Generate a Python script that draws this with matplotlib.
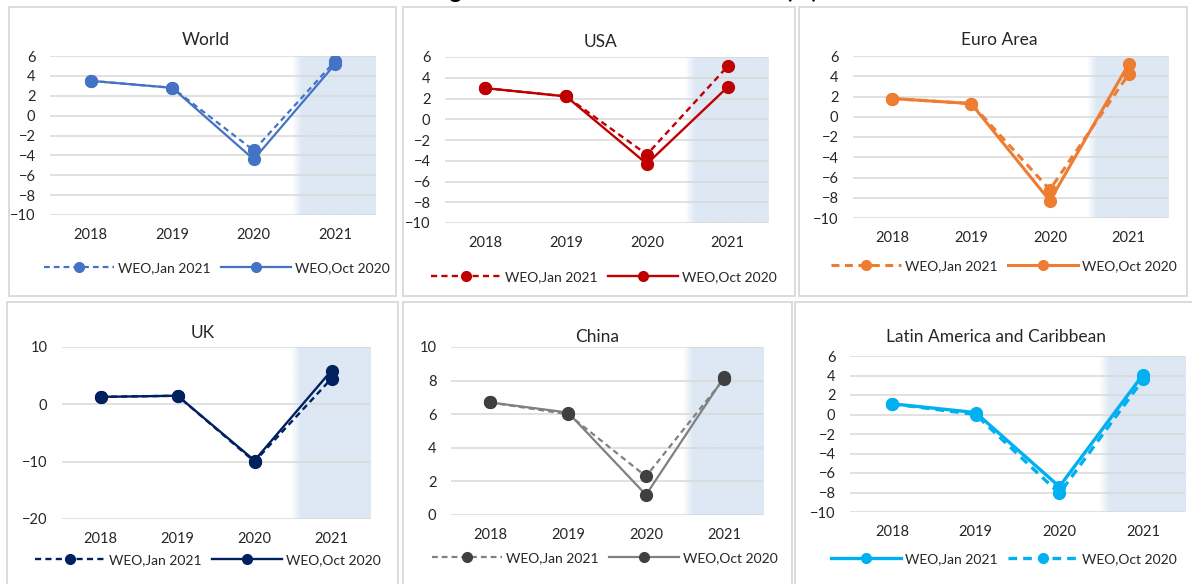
import numpy as np
import matplotlib
matplotlib.use("Agg")
import matplotlib.pyplot as plt
from matplotlib.lines import Line2D
from matplotlib.patches import Rectangle

plt.rcParams["font.family"] = ["Lato", "DejaVu Sans"]

W_PX, H_PX = 1192, 584

years = ["2018", "2019", "2020", "2021"]

# real GDP growth (%), WEO Jan 2021 update vs WEO Oct 2020
world_jan = [3.5, 2.8, -3.5, 5.5]
world_oct = [3.5, 2.8, -4.4, 5.2]
usa_jan = [3.0, 2.2, -3.4, 5.1]
usa_oct = [3.0, 2.2, -4.3, 3.1]
euro_jan = [1.8, 1.3, -7.2, 4.2]
euro_oct = [1.8, 1.3, -8.3, 5.2]
uk_jan = [1.3, 1.5, -10.0, 4.5]
uk_oct = [1.3, 1.5, -9.8, 5.9]
china_jan = [6.7, 6.0, 2.3, 8.1]
china_oct = [6.7, 6.1, 1.2, 8.2]
lac_jan = [1.1, 0.2, -7.4, 4.1]
lac_oct = [1.1, 0.0, -8.1, 3.6]

GRID = "#d9d9d9"
BAND = "#dde8f4"
TXT = "#262626"


def fig_box(x0, y0, x1, y1):
    # pixel box (top-left origin) -> figure fraction [left, bottom, width, height]
    return [x0 / W_PX, 1 - y1 / H_PX, (x1 - x0) / W_PX, (y1 - y0) / H_PX]


def fx(x):
    return x / W_PX


def fy(y):
    return 1 - y / H_PX


def add_band(ax, ylo, yhi):
    # shaded forecast year, fading in on its left edge
    rgb = matplotlib.colors.to_rgb(BAND)
    n = 200
    img = np.zeros((1, n, 4))
    img[..., :3] = rgb
    img[0, :, 3] = np.clip(np.linspace(0, 1, n) / 0.12, 0, 1)
    ax.imshow(img, extent=(2.47, 3.5, ylo, yhi), aspect="auto", zorder=0,
              interpolation="bilinear")


fig = plt.figure(figsize=(W_PX / 100, H_PX / 100), dpi=100)

# panel frames
frames = [
    (9, 7, 396, 296), (403, 7, 795, 296), (799, 7, 1187, 296),
    (7, 302, 398, 640), (403, 302, 792, 640), (795, 302, 1240, 640),
]
for x0, y0, x1, y1 in frames:
    fig.patches.append(Rectangle((fx(x0), fy(y1)), fx(x1 - x0), (y1 - y0) / H_PX,
                                 transform=fig.transFigure, fill=False,
                                 edgecolor=GRID, lw=1.3))

fig.text(fx(818), fy(-1.5), "Figure 2: Real GDP Growth Rates (%)", ha="right",
         va="baseline", fontsize=17, fontweight="bold")

panels = [
    dict(name="World", jan=world_jan, oct=world_oct, color="#4472c4", mk="#4472c4",
         box=(50, 56, 376, 215), ylim=(-10, 6), step=2, title=(206, 40),
         leg=(217, 268), lw=1.6, jan_dash=True),
    dict(name="USA", jan=usa_jan, oct=usa_oct, color="#c00000", mk="#c00000",
         box=(445, 57, 768, 223), ylim=(-10, 6), step=2, title=(600, 42),
         leg=(604, 277), lw=1.7, jan_dash=True),
    dict(name="Euro Area", jan=euro_jan, oct=euro_oct, color="#ed7d31", mk="#ed7d31",
         box=(853, 56, 1168, 218), ylim=(-10, 6), step=2, title=(999, 40),
         leg=(1004, 266), lw=2.2, jan_dash=True),
    dict(name="UK", jan=uk_jan, oct=uk_oct, color="#002060", mk="#002060",
         box=(62, 347, 370, 519), ylim=(-20, 10), step=10, title=(203, 333),
         leg=(208, 560), lw=1.7, jan_dash=True),
    dict(name="China", jan=china_jan, oct=china_oct, color="#808080", mk="#404040",
         box=(451, 347, 763, 515), ylim=(0, 10), step=2, title=(597, 337),
         leg=(605, 558), lw=1.6, jan_dash=True),
    dict(name="Latin America and Caribbean", jan=lac_jan, oct=lac_oct, color="#00b0f0",
         mk="#00b0f0", box=(850, 356, 1185, 512), ylim=(-10, 6), step=2,
         title=(996, 337), leg=(1004, 559), lw=2.4, jan_dash=False),
]

DASH = (0, (2.6, 1.8))

for p in panels:
    ax = fig.add_axes(fig_box(*p["box"]))
    x = np.arange(len(years))
    ylo, yhi = p["ylim"]

    add_band(ax, ylo, yhi)

    jan_ls = DASH if p["jan_dash"] else "-"
    oct_ls = "-" if p["jan_dash"] else DASH
    kw = dict(color=p["color"], lw=p["lw"], marker="o", markersize=8.5,
              markerfacecolor=p["mk"], markeredgecolor=p["mk"], zorder=3)
    ax.plot(x, p["oct"], linestyle=oct_ls, **kw)
    ax.plot(x, p["jan"], linestyle=jan_ls, **kw)

    ax.set_xlim(-0.5, 3.5)
    ax.set_ylim(ylo, yhi)
    ax.set_yticks(np.arange(ylo, yhi + 0.1, p["step"]))
    ax.set_xticks(x)
    ax.set_xticklabels(years)
    ax.tick_params(axis="both", length=0, labelsize=10.5, colors=TXT)
    ax.tick_params(axis="x", pad=9.5)
    ax.tick_params(axis="y", pad=10.5)
    ax.set_axisbelow(True)
    ax.grid(axis="y", color=GRID, lw=1.1)
    ax.grid(axis="x", visible=False)
    for s in ax.spines.values():
        s.set_visible(False)
    ax.patch.set_alpha(0)

    tx, ty = p["title"]
    fig.text(fx(tx), fy(ty), p["name"], ha="center", va="center", fontsize=12.5,
             color=TXT)

    hkw = dict(color=p["color"], lw=p["lw"], marker="o", markersize=7,
               markerfacecolor=p["mk"], markeredgecolor=p["mk"])
    handles = [Line2D([], [], linestyle=jan_ls, **hkw),
               Line2D([], [], linestyle=oct_ls, **hkw)]
    lx, ly = p["leg"]
    fig.legend(handles, ["WEO,Jan 2021", "WEO,Oct 2020"], loc="center",
               bbox_to_anchor=(fx(lx), fy(ly)), ncol=2, frameon=False,
               fontsize=10, handlelength=5, handletextpad=0.3,
               columnspacing=0.8, borderpad=0, labelcolor=TXT)

fig.savefig("out.png", dpi=100)
